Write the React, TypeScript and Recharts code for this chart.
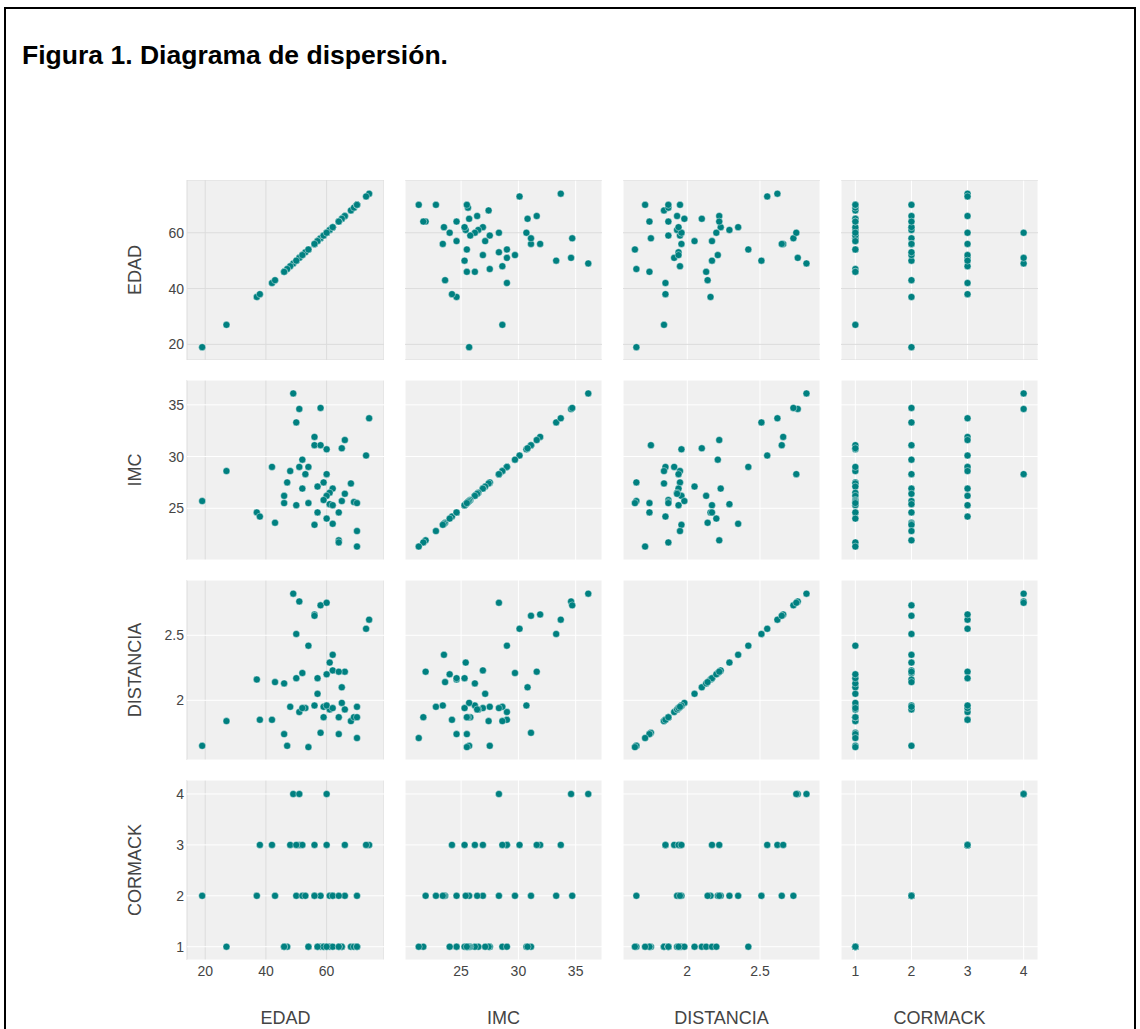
import React from 'react';
import { ScatterChart, Scatter, XAxis, YAxis, CartesianGrid } from 'recharts';

// One entry per patient, same order in every array
const EDAD = [
  49, 51, 58, 50, 74, 56, 56, 58, 66, 60, 65, 73, 42, 27, 52, 51, 54, 48, 53, 60,
  47, 59, 68, 57, 52, 62, 61, 60, 66, 46, 59, 65, 19, 46, 50, 54, 61, 62, 69, 70,
  37, 38, 57, 64, 43, 60, 62, 56, 70, 64, 64, 70,
];
const IMC = [
  36.1, 34.6, 34.7, 33.3, 33.7, 31.9, 31.1, 31.1, 31.6, 30.7, 30.8, 30.1, 29.0, 28.6,
  29.7, 29.0, 29.0, 28.6, 28.3, 28.3, 27.5, 27.5, 27.4, 27.1, 26.9, 26.9, 26.5, 26.2,
  26.4, 26.2, 25.8, 25.7, 25.7, 25.5, 25.3, 25.5, 25.4, 25.3, 25.6, 25.5, 24.6, 24.2,
  24.6, 24.6, 23.6, 24.0, 23.5, 23.4, 22.8, 21.9, 21.7, 21.3,
];
const DISTANCIA = [
  2.82, 2.76, 2.73, 2.51, 2.62, 2.66, 2.65, 1.75, 2.22, 1.96, 2.1, 2.55, 1.85, 1.84,
  2.21, 1.91, 2.42, 1.95, 1.94, 2.75, 1.65, 1.95, 1.84, 2.05, 1.94, 2.23, 1.93, 1.96,
  1.93, 2.13, 1.87, 1.98, 1.65, 1.74, 2.17, 1.64, 2.29, 1.94, 1.87, 1.87, 2.16, 1.85,
  2.17, 1.74, 2.14, 2.2, 2.35, 1.96, 1.95, 2.22, 1.87, 1.71,
];
const CORMACK = [
  4, 4, 2, 2, 3, 3, 2, 1, 3, 1, 1, 3, 3, 1, 2, 3, 1, 3, 2, 4, 1, 1, 1, 1, 3, 2, 1, 3,
  2, 1, 1, 1, 2, 1, 3, 1, 2, 1, 1, 1, 2, 3, 1, 1, 2, 1, 2, 2, 2, 2, 1, 1,
];

const VARIABLES = ['EDAD', 'IMC', 'DISTANCIA', 'CORMACK'];

const EDAD_TICKS = [20, 40, 60];
const IMC_TICKS = [25, 30, 35];
const DISTANCIA_TICKS = [2, 2.5];
const CORMACK_TICKS = [1, 2, 3, 4];

const TICKS: Record<string, number[]> = {
  EDAD: EDAD_TICKS,
  IMC: IMC_TICKS,
  DISTANCIA: DISTANCIA_TICKS,
  CORMACK: CORMACK_TICKS,
};

// axis ranges (padded like the original)
const X_DOMAIN: Record<string, [number, number]> = {
  EDAD: [14.0, 78.9],
  IMC: [20.1, 37.3],
  DISTANCIA: [1.558, 2.913],
  CORMACK: [0.744, 4.256],
};
const Y_DOMAIN: Record<string, [number, number]> = {
  EDAD: [14.4, 78.9],
  IMC: [20.0, 37.4],
  DISTANCIA: [1.541, 2.925],
  CORMACK: [0.739, 4.275],
};

const patients = EDAD.map((_, i) => ({
  EDAD: EDAD[i],
  IMC: IMC[i],
  DISTANCIA: DISTANCIA[i],
  CORMACK: CORMACK[i],
}));

const FONT = '"Liberation Sans", Arial, Helvetica, sans-serif';
const PANEL_X = [187, 405, 623, 841];
const PANEL_Y = [180, 380, 580, 780];
const PANEL_W = 197;
const PANEL_H = 180;
const Y_AXIS_W = 50;
const X_AXIS_H = 30;

const gridColor = (v: string) => (v === 'EDAD' ? '#dcdcdc' : '#ffffff');

const Dot = (props: any) => (
  <circle
    cx={props.cx}
    cy={props.cy}
    r={3.5}
    fill="#008080"
    stroke="#ffffff"
    strokeOpacity={0.5}
    strokeWidth={0.8}
  />
);

function Panel({ row, col }: { row: number; col: number }) {
  const xVar = VARIABLES[col];
  const yVar = VARIABLES[row];
  const showX = row === VARIABLES.length - 1;
  const showY = col === 0;
  const width = PANEL_W + (showY ? Y_AXIS_W : 0);
  const height = PANEL_H + (showX ? X_AXIS_H : 0);
  const data = patients.map((p: any) => ({ x: p[xVar], y: p[yVar] }));
  const tickStyle = { fill: '#444', fontSize: 14, fontFamily: FONT };

  return (
    <div
      style={{
        position: 'absolute',
        left: PANEL_X[col] - (showY ? Y_AXIS_W : 0),
        top: PANEL_Y[row],
      }}
    >
      <ScatterChart width={width} height={height} margin={{ top: 0, right: 0, bottom: 0, left: 0 }}>
        <CartesianGrid fill="#f0f0f0" horizontal={false} stroke={gridColor(xVar)} strokeWidth={1} />
        <CartesianGrid vertical={false} stroke={gridColor(yVar)} strokeWidth={1} />
        <XAxis
          type="number"
          dataKey="x"
          domain={X_DOMAIN[xVar]}
          ticks={TICKS[xVar]}
          interval={0}
          allowDataOverflow
          hide={!showX}
          height={X_AXIS_H}
          axisLine={false}
          tickLine={false}
          tickSize={0}
          tickMargin={6}
          tick={tickStyle}
        />
        <YAxis
          type="number"
          dataKey="y"
          domain={Y_DOMAIN[yVar]}
          ticks={TICKS[yVar]}
          interval={0}
          allowDataOverflow
          hide={!showY}
          width={Y_AXIS_W}
          axisLine={false}
          tickLine={false}
          tickSize={0}
          tickMargin={3}
          tick={tickStyle}
        />
        <Scatter data={data} shape={Dot} isAnimationActive={false} />
      </ScatterChart>
    </div>
  );
}

export default function App() {
  const titleStyle = {
    position: 'absolute' as const,
    fontFamily: FONT,
    fontSize: 18,
    color: '#444',
    whiteSpace: 'nowrap' as const,
    lineHeight: '20px',
  };

  return (
    <div
      style={{
        position: 'absolute',
        left: 0,
        top: 0,
        width: 1140,
        height: 1029,
        overflow: 'hidden',
        background: '#fff',
      }}
    >
      <div
        style={{
          position: 'absolute',
          left: 4,
          top: 7,
          width: 1132,
          height: 1100,
          border: '2px solid #000',
          boxSizing: 'border-box',
        }}
      />
      <svg width={1140} height={90} style={{ position: 'absolute', left: 0, top: 0 }}>
        <text
          x={22}
          y={64}
          fontFamily={FONT}
          fontWeight="bold"
          fontSize={25}
          fill="#000"
          textLength={426}
          lengthAdjust="spacingAndGlyphs"
        >
          Figura 1. Diagrama de dispersión.
        </text>
      </svg>

      {VARIABLES.map((_, r) =>
        VARIABLES.map((__, c) => <Panel key={`${r}-${c}`} row={r} col={c} />)
      )}

      {VARIABLES.map((v, r) => (
        <div
          key={`row-${v}`}
          style={{
            ...titleStyle,
            left: 135,
            top: PANEL_Y[r] + PANEL_H / 2,
            transform: 'translate(-50%, -50%) rotate(-90deg)',
          }}
        >
          {v}
        </div>
      ))}
      {VARIABLES.map((v, c) => (
        <div
          key={`col-${v}`}
          style={{
            ...titleStyle,
            left: PANEL_X[c] + PANEL_W / 2,
            top: 1018,
            transform: 'translate(-50%, -50%)',
          }}
        >
          {v}
        </div>
      ))}
    </div>
  );
}
